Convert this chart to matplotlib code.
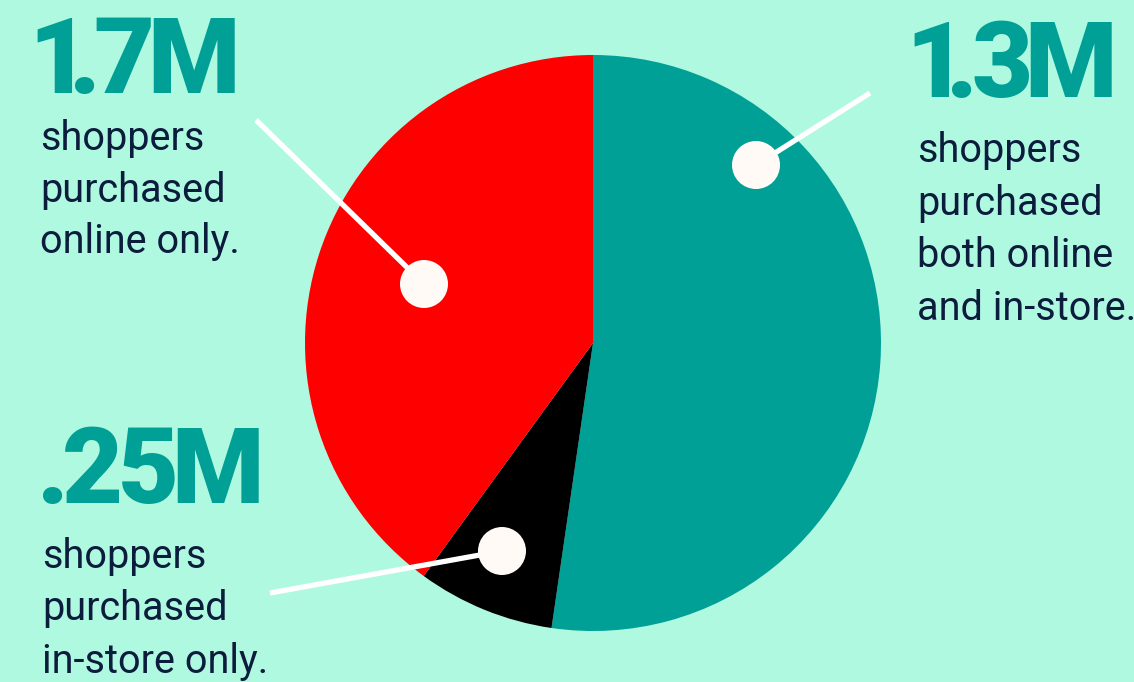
import matplotlib
matplotlib.use("Agg")
import matplotlib.pyplot as plt
import numpy as np
from matplotlib.patches import Circle

# Data
slice_names = ["both online and in-store", "in-store only", "online only"]
slice_shares = [52.3, 7.7, 40.0]          # share of pie as drawn (%), clockwise from top
slice_colors = ["#00a096", "#000000", "#ff0000"]

big_labels = ["1.7M", "1.3M", ".25M"]
body_labels = [
    ["shoppers", "purchased", "online only."],
    ["shoppers", "purchased", "both online", "and in-store."],
    ["shoppers", "purchased", "in-store only."],
]

BG = "#b0f9e1"
TEAL = "#00a096"
NAVY = "#0c1c3c"
DOT = "#fffaf5"
BIG_FONT = ["Roboto", "Inter", "DejaVu Sans"]
BODY_FONT = ["Roboto", "Inter", "DejaVu Sans"]
BIG_SIZE = 76

W, H = 1134, 682


def ink_offsets(ch, **kw):
    """Render one character alone and return (ink_left - x, ink_width) in pixels."""
    f = plt.figure(figsize=(4, 3), dpi=100, facecolor="white")
    a = f.add_axes([0, 0, 1, 1])
    a.set_xlim(0, 400)
    a.set_ylim(300, 0)
    a.axis("off")
    a.text(100, 200, ch, va="baseline", ha="left", color="black", **kw)
    f.canvas.draw()
    img = np.asarray(f.canvas.buffer_rgba())[:, :, 0]
    plt.close(f)
    cols = np.where((img < 128).any(axis=0))[0]
    return cols.min() - 100, cols.max() + 1 - cols.min()


fig = plt.figure(figsize=(W / 100, H / 100), dpi=100, facecolor=BG)
ax = fig.add_axes([0, 0, 1, 1])
ax.set_facecolor(BG)

ax.pie(slice_shares, colors=slice_colors, startangle=270, counterclock=True,
       center=(593, 343), radius=288,
       wedgeprops=dict(linewidth=0))
ax.set_xlim(0, W)
ax.set_ylim(H, 0)
ax.set_aspect("equal")
ax.axis("off")

# leader lines and dots
leaders = [((256, 120), (424, 284)), ((870, 93), (756, 165)), ((270, 593), (502, 551))]
for (x0, y0), (x1, y1) in leaders:
    ax.plot([x0, x1], [y0, y1], color="white", lw=3.8, solid_capstyle="butt", zorder=3)
    ax.add_patch(Circle((x1, y1), 24, facecolor=DOT, edgecolor="none", zorder=4))


def tight_text(x, y, s, gap=3.0, **kw):
    """Place a string character by character so that inks sit `gap` px apart."""
    cur = x
    for ch in s:
        off, w = ink_offsets(ch, **kw)
        ax.text(cur - off, y, ch, va="baseline", ha="left", color=TEAL, **kw)
        cur = cur + w + gap


# text blocks
big_pos = [(38, 93), (915, 97), (43, 503)]
body_pos = [(40, 150, 51.5), (917, 162, 52.7), (42, 568, 52.5)]
for lab, (bx, by), lines, (tx, ty, dy) in zip(big_labels, big_pos, body_labels, body_pos):
    tight_text(bx, by, lab, gap=3.0, fontsize=BIG_SIZE, fontfamily=BIG_FONT,
               fontweight="black")
    for i, line in enumerate(lines):
        ax.text(tx, ty + i * dy, line, fontsize=28.5, fontfamily=BODY_FONT,
                fontweight="normal", color=NAVY, va="baseline", ha="left")

fig.savefig("out.png", dpi=100, facecolor=BG)
